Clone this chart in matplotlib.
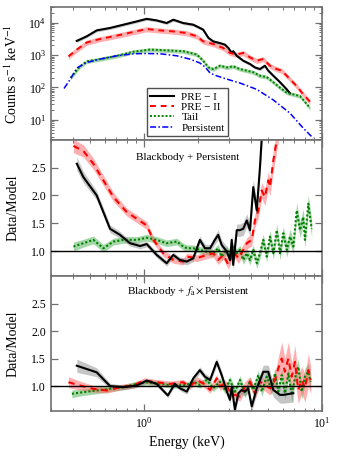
import numpy as np
import matplotlib
matplotlib.use("Agg")
import matplotlib.pyplot as plt
from matplotlib.ticker import LogLocator, NullFormatter, FixedLocator

plt.rcParams['font.family'] = ['Liberation Serif', 'DejaVu Serif']
plt.rcParams['mathtext.fontset'] = 'stix'

# ---------------- data: top panel (counts s^-1 keV^-1) ----------------
E_pre1 = [0.419, 0.476, 0.542, 0.644, 0.765, 0.91, 1.035, 1.178, 1.34, 1.46, 1.66, 1.89,
          2.06, 2.15, 2.30, 2.45, 2.67, 2.85, 2.98, 3.11, 3.17, 3.32, 3.61, 3.94, 4.20,
          4.48, 4.78, 4.99, 5.33, 5.81, 6.34, 6.61]
C_pre1 = [2750, 3800, 5800, 6900, 8700, 11000, 13200, 11800, 9800, 12400, 9800, 8700,
          6900, 6100, 3400, 2650, 2350, 2100, 1650, 1170, 1320, 950, 670, 530, 415,
          370, 470, 330, 230, 145, 87, 66]

E_pre2 = [0.376, 0.419, 0.476, 0.566, 0.703, 0.871, 1.035, 1.23, 1.46, 1.74, 1.98, 2.15,
          2.45, 2.79, 3.04, 3.32, 3.61, 3.94, 4.30, 4.68, 5.10, 5.57, 5.94, 6.34, 6.61,
          7.21, 7.85, 8.20, 8.56]
C_pre2 = [910, 1480, 2450, 3150, 4000, 5200, 6400, 5800, 5400, 4800, 3800, 2650,
          2200, 1650, 1170, 1040, 1170, 850, 670, 760, 470, 370, 330, 230, 180,
          110, 61, 47, 36]

E_tail = [0.387, 0.437, 0.476, 0.566, 0.703, 0.871, 1.08, 1.34, 1.66, 1.81, 1.98, 2.15,
          2.30, 2.45, 2.67, 2.92, 3.17, 3.46, 3.78, 4.11, 4.48, 4.89, 5.33, 5.81, 6.34,
          6.90, 7.52, 8.02, 8.56]
C_tail = [200, 450, 640, 750, 950, 1270, 1480, 1400, 1320, 1180, 1040, 670,
          415, 370, 470, 415, 450, 370, 330, 295, 230, 210, 145, 98, 69,
          61, 54, 36, 23]

E_pers = [0.355, 0.384, 0.419, 0.476, 0.566, 0.703, 0.871, 1.0, 1.23, 1.53, 1.81, 2.06,
          2.20, 2.35, 2.50, 2.79, 3.46, 4.30, 5.33, 6.61, 7.85, 8.93]
C_pers = [93, 175, 400, 590, 750, 950, 1100, 1120, 1100, 950, 750, 570,
          430, 280, 240, 195, 137, 87, 41, 16, 5.5, 2.7]

# relative error of the count spectra
rel_err_pre1 = 0.10
rel_err_pre2 = 0.18
rel_err_tail = 0.14

# ---------------- data: middle panel (Blackbody + Persistent) ----------------
E_r1 = [0.419, 0.456, 0.542, 0.644, 0.733, 0.834, 0.95, 1.035, 1.178, 1.34,
        1.46, 1.59, 1.74, 1.89, 2.06, 2.20, 2.35, 2.50, 2.61, 2.73,
        2.92, 3.04, 3.11, 3.17, 3.32, 3.46, 3.61, 3.78, 3.94, 4.11,
        4.30, 4.48, 4.58, 4.8, 5.2]
R_r1 = [2.57, 2.33, 2.0, 1.40, 1.29, 1.14, 1.09, 1.125, 0.93, 0.78,
        0.93, 0.84, 0.81, 0.87, 1.2, 1.05, 1.05, 1.2, 1.29, 1.11,
        0.99, 0.84, 1.2, 0.75, 1.375, 1.375, 1.4, 1.55, 1.375, 2.15,
        1.73, 2.5, 3.0, 3.8, 4.5]
S_r1 = [0.12, 0.1, 0.08, 0.07, 0.06, 0.05, 0.05, 0.05, 0.05, 0.05,
        0.05, 0.05, 0.06, 0.06, 0.07, 0.07, 0.07, 0.08, 0.09, 0.09,
        0.09, 0.1, 0.1, 0.1, 0.11, 0.11, 0.12, 0.12, 0.12, 0.14,
        0.14, 0.16, 0.18, 0.2, 0.2]

E_r2 = [0.401, 0.456, 0.519, 0.591, 0.673, 0.80, 0.91, 1.035, 1.128, 1.283,
        1.46, 1.66, 1.74, 1.98, 2.25, 2.45, 2.61, 2.79, 2.98, 3.17,
        3.39, 3.61, 3.78, 4.03, 4.20, 4.39, 4.58, 4.78, 4.99, 5.10,
        5.33, 5.57, 6.0, 7.0]
R_r2 = [2.89, 2.8, 2.57, 2.27, 1.97, 1.70, 1.58, 1.46, 1.2, 0.96,
        0.84, 0.81, 0.9, 0.87, 0.93, 0.96, 0.84, 0.93, 0.75, 0.99,
        0.87, 1.02, 1.14, 1.2, 1.55, 1.73, 2.09, 1.97, 2.27, 2.15,
        2.63, 3.0, 3.6, 4.5]
S_r2 = [0.12, 0.11, 0.1, 0.09, 0.08, 0.07, 0.07, 0.07, 0.06, 0.06,
        0.06, 0.06, 0.06, 0.06, 0.07, 0.07, 0.08, 0.08, 0.08, 0.09,
        0.09, 0.1, 0.1, 0.11, 0.12, 0.13, 0.14, 0.15, 0.16, 0.16,
        0.18, 0.2, 0.2, 0.2]

E_r3 = [0.401, 0.456, 0.519, 0.591, 0.673, 0.765, 0.91, 1.035, 1.178, 1.34,
        1.53, 1.66, 1.74, 1.89, 2.06, 2.25, 2.45, 2.61, 2.73, 2.92,
        3.04, 3.17, 3.32, 3.46, 3.61, 3.78, 3.94, 4.11, 4.30, 4.48,
        4.68, 4.89, 5.10, 5.33, 5.57, 5.81, 6.06, 6.34, 6.61, 6.90,
        7.21, 7.52, 7.85, 8.02, 8.38, 8.75]
R_r3 = [1.08, 1.14, 1.2, 1.05, 1.17, 1.2, 1.2, 1.24, 1.2, 1.14,
        1.17, 1.08, 1.05, 1.05, 1.02, 0.99, 0.96, 1.05, 0.9, 1.02,
        0.93, 1.08, 0.96, 1.02, 0.84, 0.96, 0.84, 1.02, 0.78, 0.96,
        1.2, 0.9, 1.26, 0.96, 1.375, 0.96, 1.32, 1.02, 1.26, 1.08,
        1.73, 1.375, 1.61, 1.2, 1.85, 1.4]
S_r3 = [0.08, 0.07, 0.07, 0.07, 0.06, 0.06, 0.06, 0.06, 0.06, 0.06,
        0.06, 0.06, 0.06, 0.06, 0.06, 0.06, 0.07, 0.07, 0.07, 0.07,
        0.08, 0.08, 0.08, 0.08, 0.08, 0.09, 0.09, 0.09, 0.09, 0.1,
        0.1, 0.1, 0.11, 0.11, 0.11, 0.12, 0.12, 0.13, 0.13, 0.13,
        0.14, 0.14, 0.15, 0.15, 0.16, 0.16]

# ---------------- data: bottom panel (Blackbody + f_a x Persistent) ----------------
E_b1 = [0.419, 0.542, 0.644, 0.765, 0.91, 1.035, 1.178, 1.36, 1.49, 1.59,
        1.74, 1.89, 2.06, 2.20, 2.35, 2.56, 2.73, 2.92, 3.04, 3.11,
        3.24, 3.39, 3.54, 3.69, 3.85, 4.03, 4.30, 4.68, 4.99, 5.33,
        5.81, 6.06, 6.90]
R_b1 = [1.37, 1.25, 1.0, 0.98, 1.01, 1.10, 1.04, 0.83, 1.04, 0.96,
        0.90, 1.14, 1.29, 1.17, 1.11, 1.44, 1.20, 0.90, 0.75, 0.99,
        0.57, 0.87, 0.93, 0.90, 0.96, 0.63, 0.96, 1.26, 1.26, 0.93,
        0.84, 0.84, 0.87]
S_b1 = [0.12, 0.08, 0.05, 0.04, 0.04, 0.04, 0.04, 0.04, 0.04, 0.04,
        0.05, 0.05, 0.06, 0.06, 0.06, 0.07, 0.07, 0.07, 0.07, 0.08,
        0.08, 0.08, 0.08, 0.08, 0.09, 0.09, 0.1, 0.12, 0.12, 0.13,
        0.15, 0.15, 0.16]

E_b2 = [0.376, 0.437, 0.519, 0.617, 0.733, 0.871, 1.0, 1.178, 1.40, 1.66,
        1.81, 1.98, 2.15, 2.35, 2.56, 2.67, 2.85, 3.04, 3.24, 3.46,
        3.69, 3.94, 4.20, 4.48, 4.78, 5.10, 5.44, 5.68, 5.94, 6.19,
        6.47, 6.76, 7.05, 7.36, 7.69, 8.02, 8.38, 8.64]
R_b2 = [1.07, 1.01, 0.95, 0.92, 0.98, 1.01, 1.10, 1.07, 1.04, 1.07,
        0.99, 1.11, 1.05, 0.93, 1.14, 0.99, 1.05, 0.9, 0.84, 0.81,
        0.99, 1.08, 0.87, 1.08, 1.02, 0.96, 1.11, 1.32, 1.5, 1.26,
        1.5, 1.17, 1.44, 0.93, 1.11, 0.96, 1.29, 1.11]
S_b2 = [0.1, 0.08, 0.06, 0.05, 0.05, 0.05, 0.05, 0.05, 0.05, 0.05,
        0.05, 0.06, 0.06, 0.06, 0.07, 0.07, 0.07, 0.08, 0.08, 0.08,
        0.09, 0.09, 0.1, 0.1, 0.11, 0.12, 0.14, 0.2, 0.3, 0.25,
        0.3, 0.25, 0.3, 0.25, 0.25, 0.25, 0.3, 0.25]

E_b3 = [0.393, 0.456, 0.542, 0.644, 0.765, 0.91, 1.035, 1.23, 1.46, 1.74,
        1.89, 2.06, 2.25, 2.45, 2.67, 2.85, 3.04, 3.24, 3.46, 3.69,
        3.94, 4.11, 4.39, 4.58, 4.89, 5.21, 5.44, 5.68, 5.94, 6.19,
        6.47, 6.76, 7.05, 7.36, 7.69, 8.02, 8.38, 8.64]
R_b3 = [0.86, 0.89, 0.92, 0.95, 0.98, 1.04, 1.07, 1.04, 1.01, 1.02,
        1.08, 1.02, 1.11, 0.96, 1.08, 0.93, 1.11, 0.9, 1.11, 0.87,
        1.08, 0.93, 1.2, 0.9, 1.17, 0.93, 1.23, 0.9, 1.2, 0.87,
        1.23, 0.84, 1.14, 1.35, 0.9, 1.17, 1.26, 1.08]
S_b3 = [0.07, 0.06, 0.06, 0.05, 0.05, 0.05, 0.05, 0.05, 0.05, 0.05,
        0.06, 0.06, 0.06, 0.06, 0.07, 0.07, 0.07, 0.07, 0.08, 0.08,
        0.08, 0.09, 0.09, 0.09, 0.1, 0.1, 0.11, 0.11, 0.11, 0.12,
        0.12, 0.13, 0.13, 0.14, 0.14, 0.15, 0.15, 0.16]

labels = ["PRE \u2212 I", "PRE \u2212 II", "Tail", "Persistent"]
ratio_ticks = [1.0, 1.5, 2.0, 2.5]
ratio_ticklabels = ["1.0", "1.5", "2.0", "2.5"]

# ---------------- styling ----------------
c_black, c_red, c_green, c_blue = "black", "#ff0000", "#008000", "#0000ff"
band_black, band_red, band_green = "#8c8c8c", "#ff6060", "#4caf50"
spine_col = "#707070"

fig = plt.figure(figsize=(3.40, 4.57), dpi=100)
L, W = 0.150, 0.797
ax1 = fig.add_axes([L, 0.694, W, 0.290])
ax2 = fig.add_axes([L, 0.396, W, 0.298], sharex=ax1)
ax3 = fig.add_axes([L, 0.101, W, 0.295], sharex=ax1)

def band(ax, x, lo, hi, col, a):
    ax.fill_between(x, lo, hi, color=col, alpha=a, lw=0)

# top panel
for E, C, r, bc in [(E_tail, C_tail, rel_err_tail, band_green),
                    (E_pre2, C_pre2, rel_err_pre2, band_red),
                    (E_pre1, C_pre1, rel_err_pre1, band_black)]:
    C = np.array(C)
    band(ax1, E, C * (1 - r), C * (1 + r), bc, 0.5)
h1, = ax1.plot(E_pre1, C_pre1, color=c_black, lw=1.5, ls='-')
h2, = ax1.plot(E_pre2, C_pre2, color=c_red, lw=1.4, ls=(0, (3, 2.5)))
h3, = ax1.plot(E_tail, C_tail, color=c_green, lw=1.4, ls=(0, (1, 1)))
h4, = ax1.plot(E_pers, C_pers, color=c_blue, lw=1.1, ls=(0, (4, 1.5, 1, 1.5)))
ax1.set_xscale('log')
ax1.set_yscale('log')
ax1.set_xlim(0.30, 10.0)
ax1.set_ylim(2.4, 3.0e4)
ax1.yaxis.set_major_locator(LogLocator(base=10, numticks=10))
ax1.yaxis.set_minor_locator(LogLocator(base=10, subs=np.arange(2, 10), numticks=10))
ax1.set_ylabel("Counts s$^{-1}$ keV$^{-1}$", fontsize=10)
leg = ax1.legend([h1, h2, h3, h4], labels, loc='lower left',
                 bbox_to_anchor=(0.354, 0.03), borderaxespad=0, fontsize=8,
                 fancybox=False, framealpha=1, edgecolor='#505050',
                 handlelength=2.1, handletextpad=0.7, labelspacing=0.05,
                 borderpad=0.3)
leg.get_frame().set_linewidth(1.0)

# ratio panels
def ratio_panel(ax, series):
    for E, R, S, lc, bc, ls in series:
        R = np.array(R); S = np.array(S)
        band(ax, E, R - S, R + S, bc, 0.5)
    for E, R, S, lc, bc, ls in series:
        ax.plot(E, R, color=lc, lw=1.5, ls=ls)
    ax.axhline(1.0, color='black', lw=1.0, zorder=5)
    ax.set_ylim(0.55, 3.0)
    ax.yaxis.set_major_locator(FixedLocator(ratio_ticks))
    ax.set_yticklabels(ratio_ticklabels)
    ax.set_ylabel("Data/Model", fontsize=10)

ratio_panel(ax2, [(E_r3, R_r3, S_r3, c_green, band_green, (0, (1, 1))),
                  (E_r2, R_r2, S_r2, c_red, band_red, (0, (3, 2.5))),
                  (E_r1, R_r1, S_r1, c_black, band_black, '-')])
ratio_panel(ax3, [(E_b3, R_b3, S_b3, c_green, band_green, (0, (1, 1))),
                  (E_b2, R_b2, S_b2, c_red, band_red, (0, (3, 2.5))),
                  (E_b1, R_b1, S_b1, c_black, band_black, '-')])

ax2.text(0.505, 0.868, "Blackbody + Persistent", transform=ax2.transAxes,
         ha='center', va='center', fontsize=8)
ax3.text(0.505, 0.89, "Blackbody + $f_{\\rm a} \\times$Persistent", transform=ax3.transAxes,
         ha='center', va='center', fontsize=8)

ax3.set_xlabel("Energy (keV)", fontsize=10)
ax3.xaxis.set_major_locator(LogLocator(base=10, numticks=10))
ax3.xaxis.set_minor_locator(LogLocator(base=10, subs=np.arange(2, 10), numticks=10))
ax3.xaxis.set_minor_formatter(NullFormatter())

for ax in (ax1, ax2, ax3):
    for s in ax.spines.values():
        s.set_color(spine_col)
        s.set_linewidth(1.2)
    ax.tick_params(which='both', direction='in', top=True, right=True,
                   color=spine_col, labelsize=8.5)
    ax.tick_params(which='major', length=5, width=0.9)
    ax.tick_params(which='minor', length=2.5, width=0.7)
    ax.yaxis.set_label_coords(-0.115, 0.5)
for ax in (ax1, ax2):
    ax.tick_params(labelbottom=False)

fig.savefig("out.png", dpi=100)
